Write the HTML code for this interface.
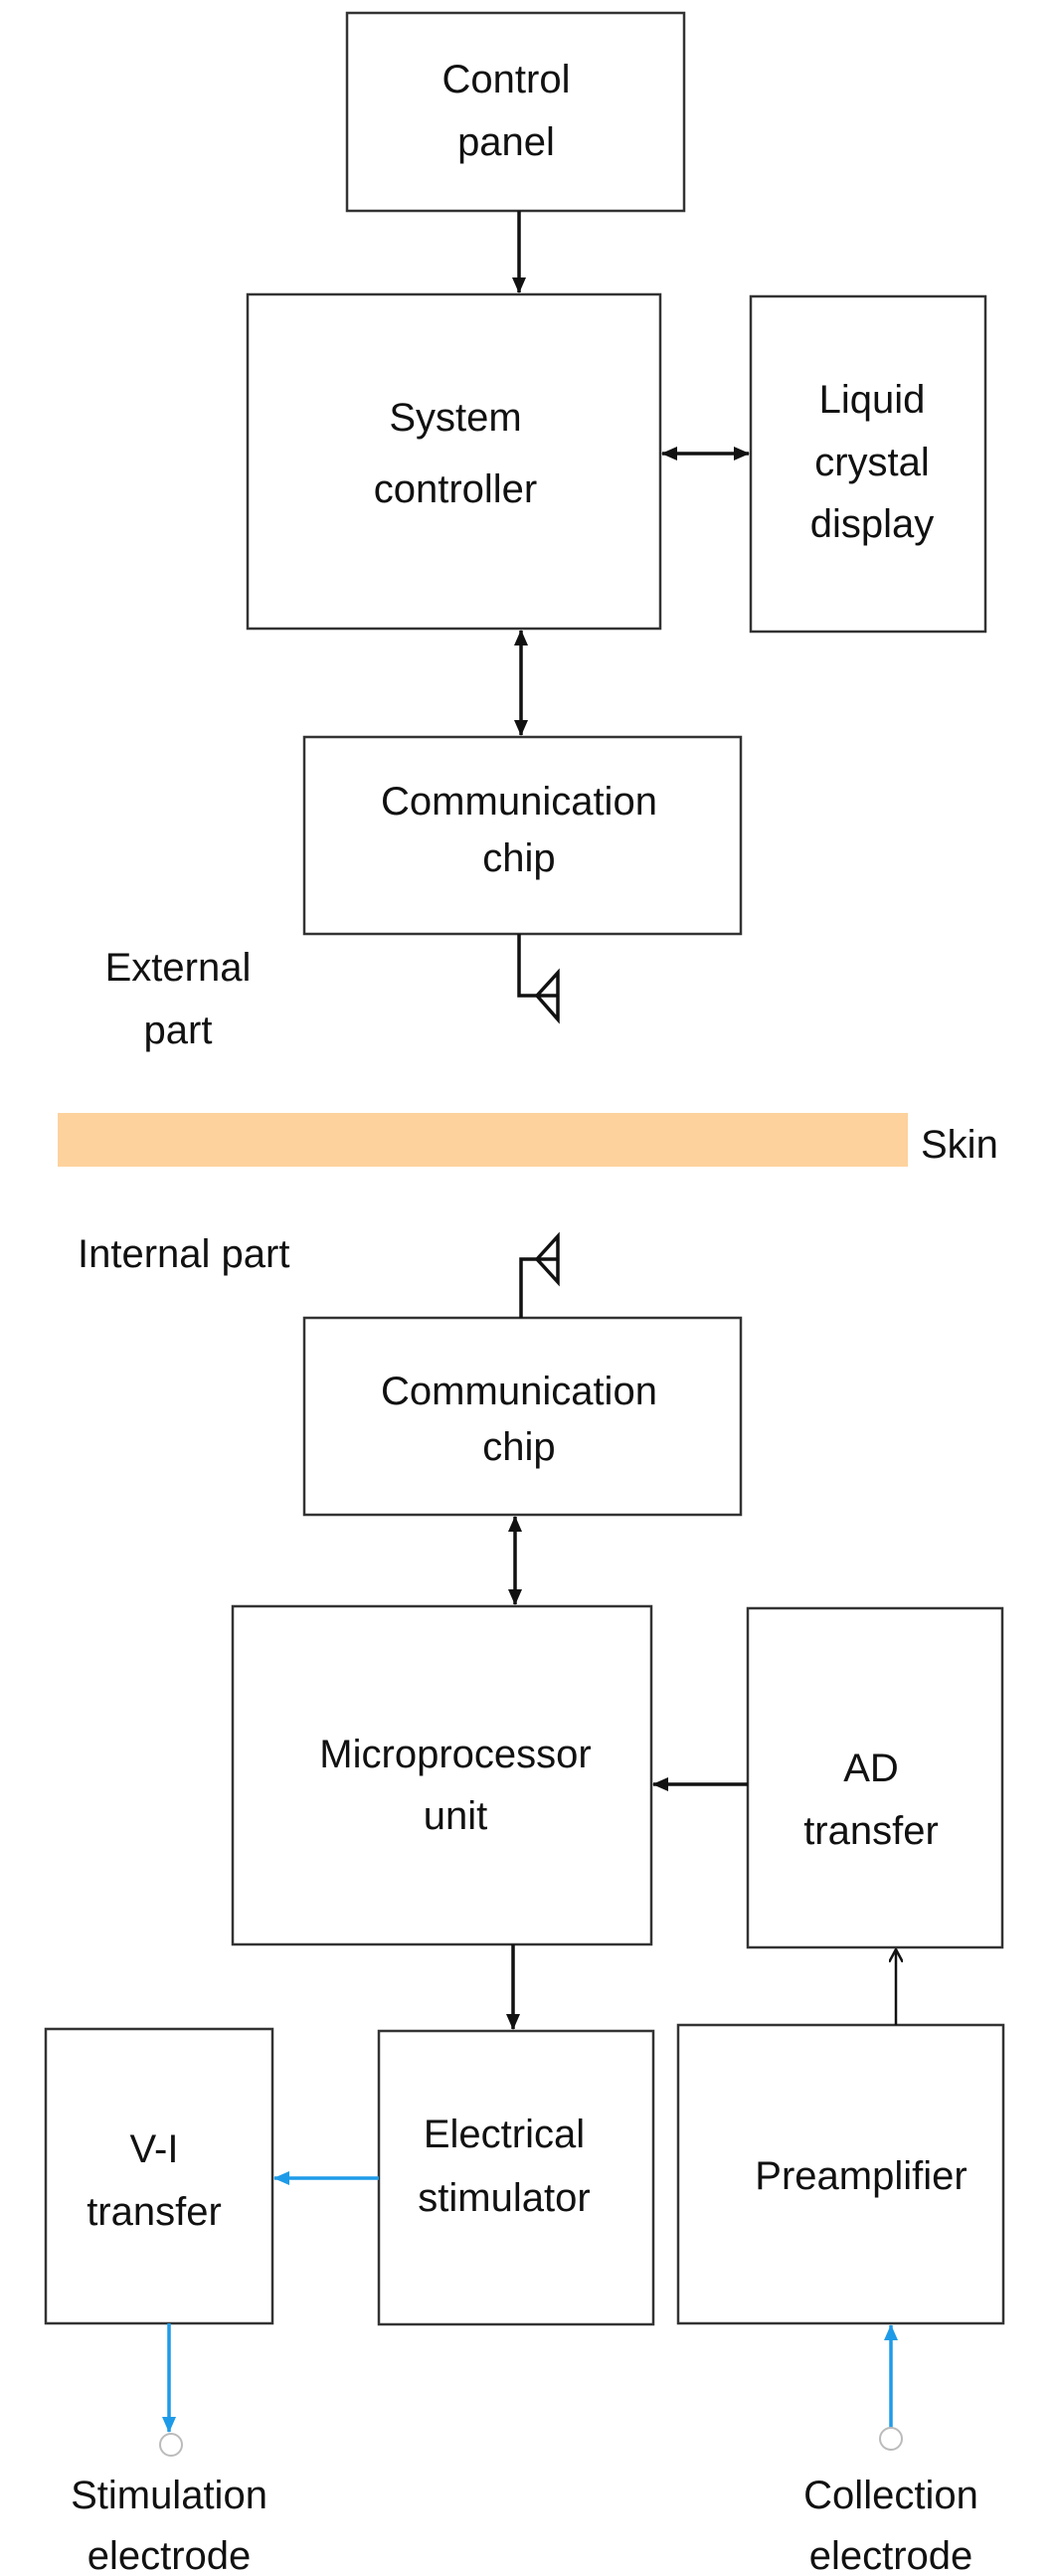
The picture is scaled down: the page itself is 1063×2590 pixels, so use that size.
<!DOCTYPE html>
<html><head><meta charset="utf-8"><style>
html,body{margin:0;padding:0;background:#fff}
svg{display:block}
text{font-family:"Liberation Sans",Arial,sans-serif;font-size:40px;fill:#111;text-anchor:middle}
</style></head><body>
<svg width="1063" height="2590" viewBox="0 0 1063 2590" xmlns="http://www.w3.org/2000/svg">
<defs>
<marker id="ah" markerWidth="16" markerHeight="16" refX="15" refY="8" orient="auto-start-reverse" markerUnits="userSpaceOnUse"><path d="M0,1 L16,8 L0,15 z" fill="#111"/></marker>
<marker id="ab" markerWidth="16" markerHeight="16" refX="15" refY="8" orient="auto-start-reverse" markerUnits="userSpaceOnUse"><path d="M0,1 L16,8 L0,15 z" fill="#1e9be8"/></marker>
<marker id="ao" markerWidth="14" markerHeight="14" refX="13" refY="7" orient="auto" markerUnits="userSpaceOnUse"><path d="M0,0 L13,7 L0,14" fill="none" stroke="#111" stroke-width="2.5"/></marker>
</defs>
<g fill="none" stroke="#333" stroke-width="2.5">
<rect x="349" y="13" width="339" height="199"/>
<rect x="249" y="296" width="415" height="336"/>
<rect x="755" y="298" width="236" height="337"/>
<rect x="306" y="741" width="439" height="198"/>
<rect x="306" y="1325" width="439" height="198"/>
<rect x="234" y="1615" width="421" height="340"/>
<rect x="752" y="1617" width="256" height="341"/>
<rect x="46" y="2040" width="228" height="296"/>
<rect x="381" y="2042" width="276" height="295"/>
<rect x="682" y="2036" width="327" height="300"/>
</g>
<rect x="58" y="1119" width="855" height="54" fill="#fdd29d"/>
<g stroke="#111" stroke-width="3.5" fill="none">
<line x1="522" y1="212" x2="522" y2="294" marker-end="url(#ah)"/>
<line x1="666" y1="456" x2="753" y2="456" marker-start="url(#ah)" marker-end="url(#ah)"/>
<line x1="524" y1="634" x2="524" y2="739" marker-start="url(#ah)" marker-end="url(#ah)"/>
<line x1="518" y1="1525" x2="518" y2="1613" marker-start="url(#ah)" marker-end="url(#ah)"/>
<line x1="752" y1="1794" x2="657" y2="1794" marker-end="url(#ah)"/>
<line x1="516" y1="1955" x2="516" y2="2040" marker-end="url(#ah)"/>
<polyline points="522,939 522,1001 561,1001"/>
<polygon points="540,1001 561,978 561,1025"/>
<polyline points="524,1325 524,1266 561,1266"/>
<polygon points="540,1266 561,1243 561,1289"/>
</g>
<line x1="901" y1="2036" x2="901" y2="1960" stroke="#111" stroke-width="2.5" marker-end="url(#ao)"/>
<g stroke="#1e9be8" stroke-width="3.5">
<line x1="381" y1="2190" x2="276" y2="2190" marker-end="url(#ab)"/>
<line x1="170" y1="2336" x2="170" y2="2445" marker-end="url(#ab)"/>
<line x1="896" y1="2441" x2="896" y2="2338" marker-end="url(#ab)"/>
</g>
<circle cx="172" cy="2458" r="11" fill="#fff" stroke="#bbb" stroke-width="2"/>
<circle cx="896" cy="2452" r="11" fill="#fff" stroke="#bbb" stroke-width="2"/>
<text x="509" y="93">Control</text><text x="509" y="156">panel</text>
<text x="458" y="433">System</text><text x="458" y="505">controller</text>
<text x="877" y="415">Liquid</text><text x="877" y="478">crystal</text><text x="877" y="540">display</text>
<text x="522" y="819">Communication</text><text x="522" y="876">chip</text>
<text x="179" y="986">External</text><text x="179" y="1049">part</text>
<text x="926" y="1164" style="text-anchor:start">Skin</text>
<text x="78" y="1274" style="text-anchor:start">Internal part</text>
<text x="522" y="1412">Communication</text><text x="522" y="1468">chip</text>
<text x="458" y="1777">Microprocessor</text><text x="458" y="1839">unit</text>
<text x="876" y="1791">AD</text><text x="876" y="1854">transfer</text>
<text x="155" y="2174">V-I</text><text x="155" y="2237">transfer</text>
<text x="507" y="2159">Electrical</text><text x="507" y="2223">stimulator</text>
<text x="866" y="2201">Preamplifier</text>
<text x="170" y="2522">Stimulation</text><text x="170" y="2583">electrode</text>
<text x="896" y="2522">Collection</text><text x="896" y="2583">electrode</text>
</svg>
</body></html>
